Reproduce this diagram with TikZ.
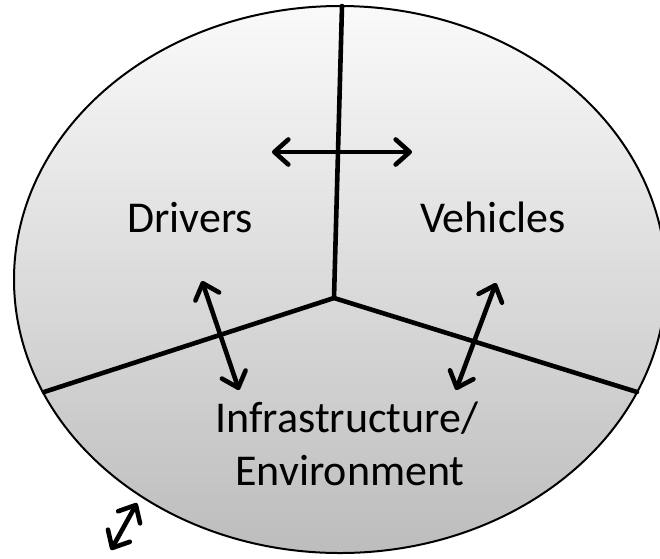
\documentclass[tikz,border=0pt]{standalone}
\usepackage{fontspec}
\setmainfont{Carlito}
\usetikzlibrary{arrows.meta}
\tikzset{
  divider/.style={line width=4.6pt, line cap=round},
  link/.style={line width=4.6pt, line cap=round,
    {Straight Barb[length=14pt, width=25pt, line cap=round, line join=round]}-{Straight Barb[length=14pt, width=25pt, line cap=round, line join=round]}},
  label/.style={font=\fontsize{44}{53}\selectfont, inner sep=0pt, anchor=base, align=center}
}
\begin{document}
\begin{tikzpicture}[x=1pt, y=-1pt]
\useasboundingbox (0,0) rectangle (660,558);
\clip (0,0) rectangle (660,558);
% ellipse
\shade[top color=white!98!black, bottom color=white!74!black]
  (340,279.5) ellipse [x radius=326, y radius=273.5];
\draw[line width=2pt] (340,279.5) ellipse [x radius=326, y radius=273.5];
% dividers
\coordinate (T) at (342,6);
\coordinate (J) at (334,298);
\coordinate (L) at (44,392);
\coordinate (R) at (637,392);
\draw[divider] (T) -- (J);
\draw[divider, line join=miter] (L) -- (J) -- (R);
% labels
\node[label] (drv) at (190,232) {Drivers};
\node[label] (veh) at (493,232) {Vehicles};
\node[label] (inf) at (347,432) {Infrastructure/};
\node[label] (env) at (350,485) {Environment};
% arrows
\coordinate (a1) at (272,152);
\coordinate (a2) at (412,152);
\coordinate (b1) at (202,281);
\coordinate (b2) at (239,390);
\coordinate (c1) at (496,283);
\coordinate (c2) at (456,390);
\coordinate (d1) at (137,503);
\coordinate (d2) at (111,550);
\draw[link] (a1) -- (a2);
\draw[link] (b1) -- (b2);
\draw[link] (c1) -- (c2);
\draw[link] (d1) -- (d2);
\end{tikzpicture}
\end{document}
